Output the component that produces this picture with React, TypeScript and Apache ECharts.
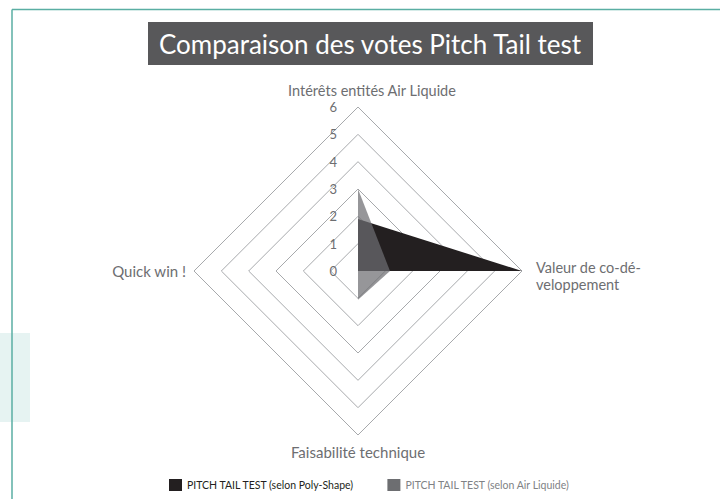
import React, { useEffect, useRef } from "react";
import * as echarts from "echarts";

const titleText = "Comparaison des votes Pitch Tail test";
const indicatorNames = [
  "Intérêts entités Air Liquide",
  "Quick win !",
  "Faisabilité technique",
  "Valeur de co-dé-\nveloppement",
];
const axisMax = 6;
const seriesNames = [
  "PITCH TAIL TEST (selon Poly-Shape)",
  "PITCH TAIL TEST (selon Air Liquide)",
];
const polyShapeValues = [1.9, 0, 0, 6];
const airLiquideValues = [3, 0, 1.05, 1.17];

const FONT = "Lato";
const NAME_COLOR = "#6d6e71";

export default function App() {
  const ref = useRef<HTMLDivElement>(null);
  useEffect(() => {
    if (!ref.current) return;
    const chart = echarts.init(ref.current, null, { renderer: "svg" });
    const base = { color: NAME_COLOR, fontFamily: FONT, fontSize: 14.5, lineHeight: 18 };
    chart.setOption({
      animation: false,
      backgroundColor: "#ffffff",
      graphic: [
        { type: "rect", shape: { x: 0, y: 333, width: 30, height: 89 }, style: { fill: "#e6f3f2" }, z: 0 },
        { type: "line", shape: { x1: 12, y1: 9.5, x2: 720, y2: 9.5 }, style: { stroke: "#5aaea3", lineWidth: 1.5 }, z: 1 },
        { type: "line", shape: { x1: 12, y1: 9.5, x2: 12, y2: 499 }, style: { stroke: "#5aaea3", lineWidth: 1.5 }, z: 1 },
        { type: "rect", shape: { x: 148, y: 22, width: 445, height: 43 }, style: { fill: "#58585a" }, z: 1 },
        {
          type: "text",
          x: 370,
          y: 43.5,
          style: {
            text: titleText,
            fill: "#ffffff",
            font: `26px ${FONT}`,
            align: "center",
            verticalAlign: "middle",
          },
          z: 2,
        },
      ],
      legend: {
        left: 164,
        top: 474,
        itemWidth: 13,
        itemHeight: 12,
        itemGap: 33,
        icon: "rect",
        textStyle: { fontFamily: FONT, fontSize: 10.5 },
        data: [
          { name: seriesNames[0], textStyle: { color: "#231f20" } },
          { name: seriesNames[1], textStyle: { color: "#808285" } },
        ],
      },
      radar: {
        center: [358, 271],
        radius: 164,
        shape: "polygon",
        startAngle: 90,
        splitNumber: 6,
        nameGap: 8,
        axisName: {
          ...base,
          formatter: (value: string) => {
            if (value === indicatorNames[0]) return `{c|${value}}`;
            if (value === indicatorNames[3]) {
              const lines = value.split("\n");
              return `{r1|${lines[0]}}\n{r|${lines[1]}}`;
            }
            return `{n|${value}}`;
          },
          rich: {
            c: { ...base, padding: [0, 0, 0, 28] },
            r1: { ...base, lineHeight: 26, verticalAlign: "bottom", padding: [0, 0, 0, 6] },
            r: { ...base, padding: [0, 0, 0, 6] },
            n: { ...base, fontSize: 15 },
          },
        },
        splitLine: { lineStyle: { color: "#a7a9ac", width: 1 } },
        splitArea: { show: false },
        axisLine: { show: false },
        axisTick: { show: false },
        axisLabel: { show: false },
        indicator: indicatorNames.map((n, i) => ({
          name: n,
          min: 0,
          max: axisMax,
          axisLabel:
            i === 0
              ? { show: true, margin: 21, color: NAME_COLOR, fontFamily: FONT, fontSize: 13 }
              : { show: false },
        })),
      },
      series: [
        {
          type: "radar",
          symbol: "none",
          data: [
            {
              name: seriesNames[0],
              value: polyShapeValues,
              itemStyle: { color: "#231f20" },
              lineStyle: { width: 0 },
              areaStyle: { color: "#231f20", opacity: 1 },
            },
            {
              name: seriesNames[1],
              value: airLiquideValues,
              itemStyle: { color: "#6d6e71" },
              lineStyle: { width: 0 },
              areaStyle: { color: "#6d6e71", opacity: 0.72 },
            },
          ],
        },
      ],
    });
    return () => chart.dispose();
  }, []);
  return (
    <div
      ref={ref}
      style={{ position: "fixed", left: 0, top: 0, width: 720, height: 499 }}
    />
  );
}
